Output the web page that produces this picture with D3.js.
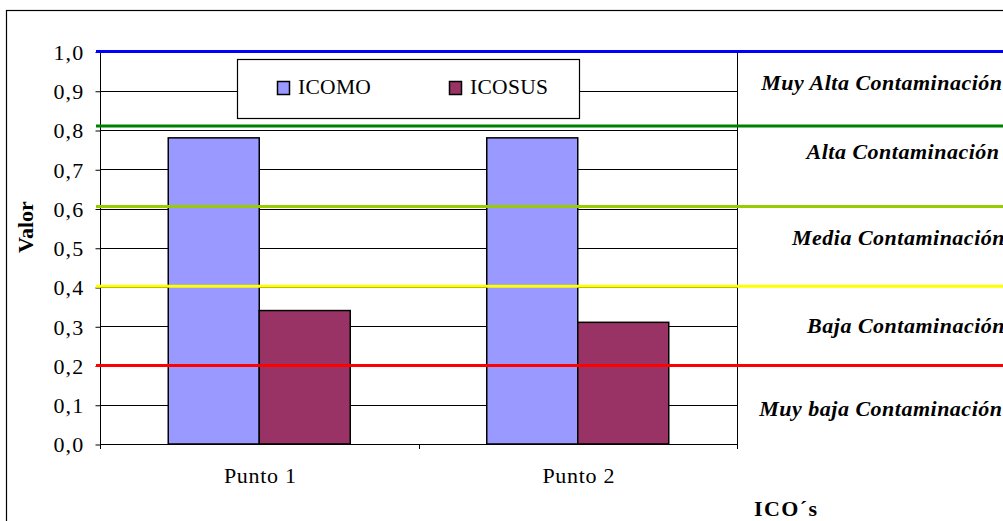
<!DOCTYPE html>
<html>
<head>
<meta charset="utf-8">
<script src="https://cdn.jsdelivr.net/npm/d3@7"></script>
<style>
  html, body { margin: 0; padding: 0; background: #fff; }
  svg { display: block; }
  text { font-family: "Liberation Serif", "Times New Roman", serif; fill: #000; }
</style>
</head>
<body>
<svg id="chart" width="1003" height="521"></svg>
<script>
// ---- data ----
const categories = ["Punto 1", "Punto 2"];
const seriesNames = ["ICOMO", "ICOSUS"];
const icomo = [0.78, 0.78];
const icosus = [0.34, 0.31];
const yTicks = [0, 0.1, 0.2, 0.3, 0.4, 0.5, 0.6, 0.7, 0.8, 0.9, 1.0];
const thresholdValues = [1.0, 0.81, 0.605, 0.402, 0.2];
const bandLabels = ["Muy Alta Contaminación", "Alta Contaminación", "Media Contaminación",
                    "Baja Contaminación", "Muy baja Contaminación"];
const yTitle = "Valor";
const xTitle = "ICO´s";

// ---- layout & style ----
const W = 1003, H = 521;
const plot = { left: 100, right: 737, top: 51.5, bottom: 444 };
const seriesColors = ["#9999FF", "#993366"];
const thresholdColors = ["#0000FF", "#008000", "#99CC00", "#FFFF00", "#FF0000"];
const bandLabelY = [90, 159, 245, 333, 416];
const bandLabelEnd = [1002.5, 999.5, 1005, 1005, 1002.5];
const gapWidth = 1.5; // gap between groups, in bar widths

const svg = d3.select("#chart");

// outer chart frame
svg.append("rect")
  .attr("x", 6.5).attr("y", 10.5)
  .attr("width", W + 20).attr("height", H + 20)
  .attr("fill", "#fff").attr("stroke", "#000").attr("stroke-width", 1.2);

const y = d3.scaleLinear().domain([0, 1]).range([plot.bottom, plot.top]);
const x0 = d3.scaleBand().domain(categories).range([plot.left, plot.right]).padding(0);
const barW = x0.step() / (seriesNames.length + gapWidth);
const x1 = d3.scaleBand().domain(seriesNames)
  .range([barW * gapWidth / 2, barW * gapWidth / 2 + barW * seriesNames.length]).padding(0);

// horizontal gridlines
svg.append("g").selectAll("line").data(yTicks).join("line")
  .attr("x1", plot.left).attr("x2", plot.right)
  .attr("y1", d => Math.round(y(d)) + 0.5).attr("y2", d => Math.round(y(d)) + 0.5)
  .attr("stroke", "#000").attr("stroke-width", 1);

// y axis
const yAxis = d3.axisLeft(y).tickValues(yTicks).tickSize(5)
  .tickFormat(d => d3.format(".1f")(d).replace(".", ","));
const gy = svg.append("g").attr("transform", `translate(${plot.left + 0.5},0.5)`).call(yAxis);
gy.select(".domain").remove();
gy.selectAll(".tick line").attr("stroke", "#000");
gy.selectAll(".tick text")
  .attr("x", -16).attr("dy", "0.34em")
  .style("font-size", "22px").style("letter-spacing", "1.2px")
  .style("font-family", "'Liberation Serif', serif").attr("fill", "#000");
svg.append("line")
  .attr("x1", plot.left + 0.5).attr("x2", plot.left + 0.5)
  .attr("y1", plot.top).attr("y2", plot.bottom + 5)
  .attr("stroke", "#000");

// right frame of the plot area
svg.append("line")
  .attr("x1", plot.right + 0.5).attr("x2", plot.right + 0.5)
  .attr("y1", plot.top).attr("y2", plot.bottom + 5)
  .attr("stroke", "#000");

// x axis
svg.append("line")
  .attr("x1", plot.left).attr("x2", plot.right)
  .attr("y1", plot.bottom + 0.5).attr("y2", plot.bottom + 0.5)
  .attr("stroke", "#000");
const xBounds = categories.map(c => x0(c)).concat([plot.right]);
svg.append("g").selectAll("line").data(xBounds).join("line")
  .attr("x1", d => Math.round(d) + 0.5).attr("x2", d => Math.round(d) + 0.5)
  .attr("y1", plot.bottom).attr("y2", plot.bottom + 5)
  .attr("stroke", "#000");
svg.append("g").selectAll("text").data(categories).join("text")
  .attr("x", d => x0(d) + x0.bandwidth() / 2 + 1)
  .attr("y", 483)
  .attr("text-anchor", "middle")
  .style("font-size", "22px").style("letter-spacing", "0.7px")
  .text(d => d);

// bars
const rows = categories.map((c, i) => ({ cat: c, values: [icomo[i], icosus[i]] }));
const groups = svg.append("g").selectAll("g").data(rows).join("g")
  .attr("transform", d => `translate(${x0(d.cat)},0)`);
groups.selectAll("rect")
  .data(d => d.values.map((v, j) => ({ name: seriesNames[j], value: v, j })))
  .join("rect")
  .attr("x", d => x1(d.name))
  .attr("y", d => y(d.value))
  .attr("width", x1.bandwidth())
  .attr("height", d => y(0) - y(d.value))
  .attr("fill", d => seriesColors[d.j])
  .attr("stroke", "#000").attr("stroke-width", 1.5);

// contamination thresholds
svg.append("g").selectAll("line").data(thresholdValues).join("line")
  .attr("x1", 96).attr("x2", W)
  .attr("y1", d => y(d)).attr("y2", d => y(d))
  .attr("stroke", (d, i) => thresholdColors[i])
  .attr("stroke-width", 3);

// band labels
svg.append("g").selectAll("text").data(bandLabels).join("text")
  .attr("x", (d, i) => bandLabelEnd[i])
  .attr("y", (d, i) => bandLabelY[i])
  .attr("text-anchor", "end")
  .style("font-size", "22px").style("font-weight", "bold").style("font-style", "italic")
  .style("letter-spacing", "0.5px")
  .text(d => d);

// legend
const legend = svg.append("g");
legend.append("rect")
  .attr("x", 237.5).attr("y", 59.5).attr("width", 342).attr("height", 59)
  .attr("fill", "#fff").attr("stroke", "#000").attr("stroke-width", 1.2);
const legendX = [277, 449];
const items = legend.selectAll("g").data(seriesNames).join("g")
  .attr("transform", (d, i) => `translate(${legendX[i]},0)`);
items.append("rect")
  .attr("x", 0.5).attr("y", 81.5).attr("width", 12).attr("height", 13)
  .attr("fill", (d, i) => seriesColors[i]).attr("stroke", "#000").attr("stroke-width", 1.5);
items.append("text")
  .attr("x", 21).attr("y", 94)
  .style("font-size", "21.5px").style("letter-spacing", "0.3px")
  .text(d => d);

// axis titles
svg.append("text")
  .attr("transform", "translate(33,227) rotate(-90)")
  .attr("text-anchor", "middle")
  .style("font-size", "22px").style("font-weight", "bold")
  .text(yTitle);
svg.append("text")
  .attr("x", 754).attr("y", 516)
  .style("font-size", "22px").style("font-weight", "bold").style("letter-spacing", "1.4px")
  .text(xTitle);
</script>
</body>
</html>
